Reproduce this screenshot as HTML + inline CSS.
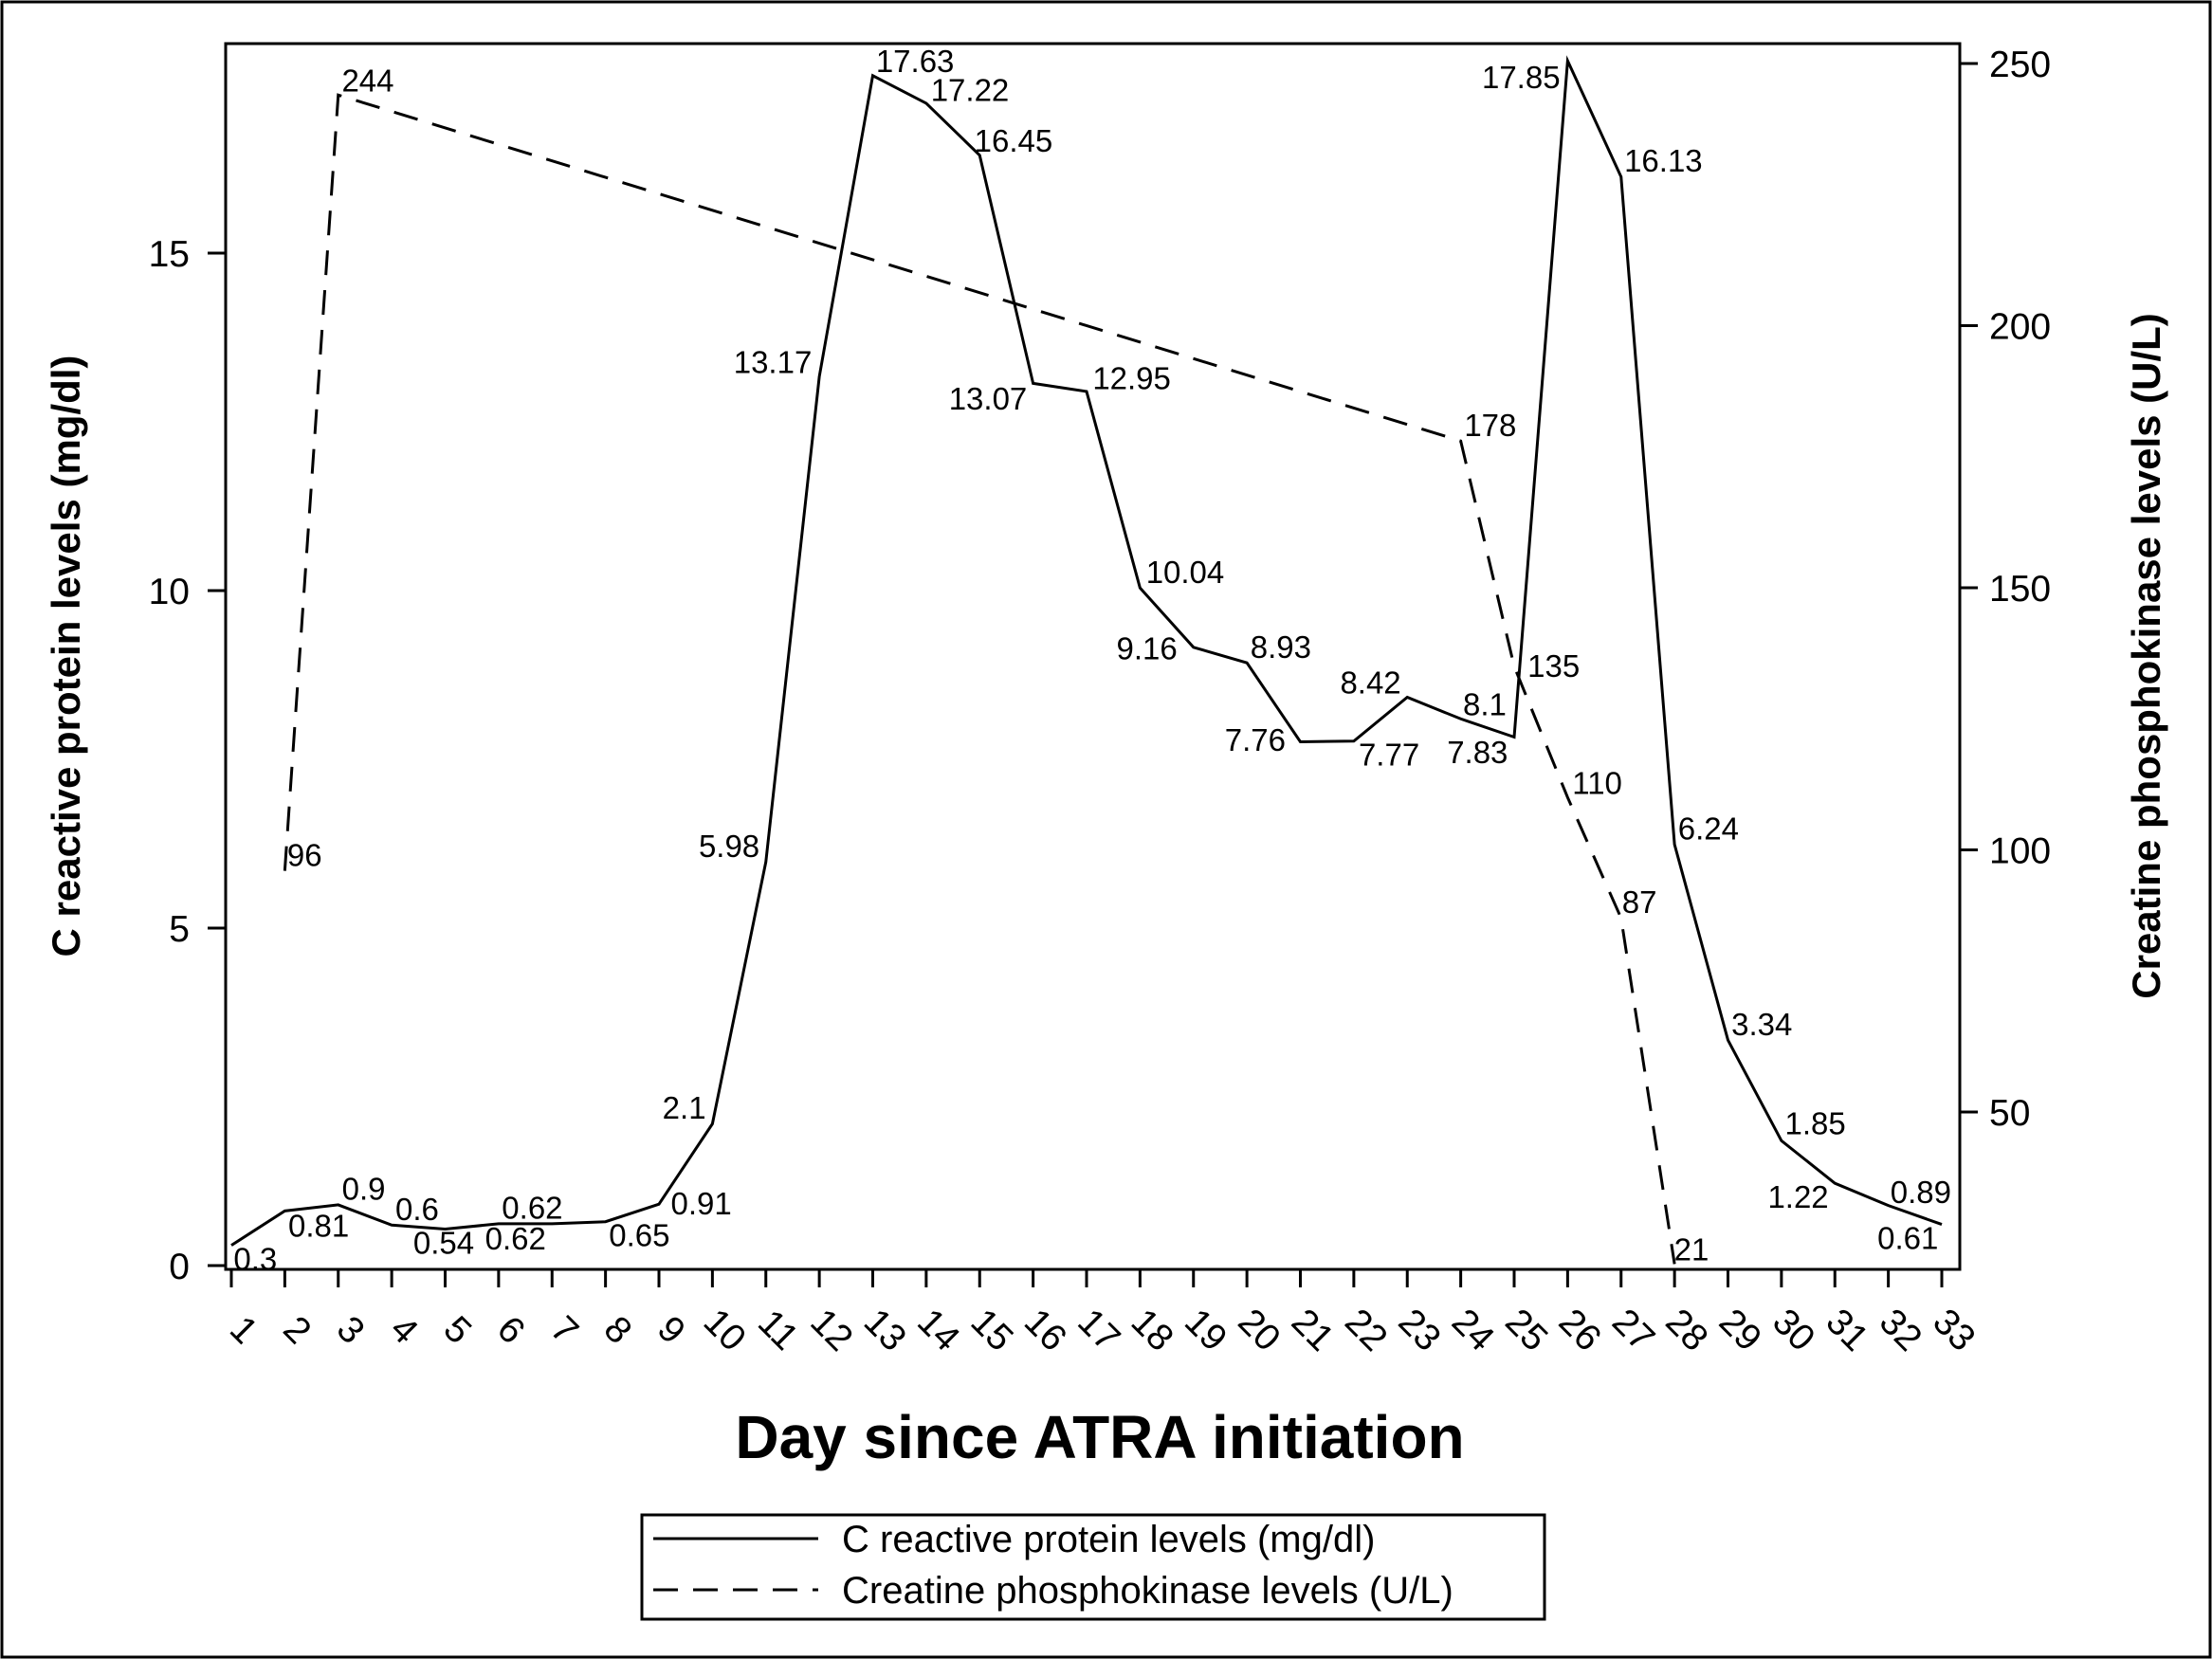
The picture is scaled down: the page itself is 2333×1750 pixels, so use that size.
<!DOCTYPE html>
<html><head><meta charset="utf-8"><style>
html,body{margin:0;padding:0;background:#fff}
svg{display:block;font-family:"Liberation Sans","DejaVu Sans",sans-serif}
</style></head><body>
<svg id="chart" width="2333" height="1750" viewBox="0 0 2333 1750" xmlns="http://www.w3.org/2000/svg">
<rect x="2" y="2" width="2329" height="1746" fill="#fff" stroke="#000" stroke-width="3"/>
<rect x="238" y="46" width="1829" height="1293" fill="none" stroke="#000" stroke-width="3"/>
<g id="axes"></g>
<g id="series"></g>
<text x="1160" y="1538" font-size="64" font-weight="bold" text-anchor="middle">Day since ATRA initiation</text>
<text transform="translate(84,692) rotate(-90)" font-size="42" font-weight="bold" text-anchor="middle">C reactive protein levels (mg/dl)</text>
<text transform="translate(2278,692) rotate(-90)" font-size="42" font-weight="bold" text-anchor="middle">Creatine phosphokinase levels (U/L)</text>
<g>
<rect x="677" y="1598" width="952" height="110" fill="#fff" stroke="#000" stroke-width="3"/>
<line x1="689" y1="1623" x2="863" y2="1623" stroke="#000" stroke-width="3"/>
<text x="888" y="1637" font-size="40">C reactive protein levels (mg/dl)</text>
<line x1="689" y1="1677" x2="863" y2="1677" stroke="#000" stroke-width="3" stroke-dasharray="26 16"/>
<text x="888" y="1691" font-size="40">Creatine phosphokinase levels (U/L)</text>
</g>
</svg>
<script>
const days = [1,2,3,4,5,6,7,8,9,10,11,12,13,14,15,16,17,18,19,20,21,22,23,24,25,26,27,28,29,30,31,32,33];
const crpValues = [0.3,0.81,0.9,0.6,0.54,0.62,0.62,0.65,0.91,2.1,5.98,13.17,17.63,17.22,16.45,13.07,12.95,10.04,9.16,8.93,7.76,7.77,8.42,8.1,7.83,17.85,16.13,6.24,3.34,1.85,1.22,0.89,0.61];
const cpkDays = [2,3,24,25,26,27,28];
const cpkValues = [96,244,178,135,110,87,21];
const leftTicks = [0,5,10,15];
const rightTicks = [50,100,150,200,250];
// label placement offsets (display units)
const crpLabelOff = [[17,10],[24,11],[18,-11],[18,-11],[-1,10],[12,11],[-14,-11],[24,10],[30,0],[-20,-11],[-26,-11],[-33,-10],[30,-10],[31,-9],[24,-10],[-32,11],[32,-9],[32,-11],[-33,1],[24,-11],[-32,-1],[25,10],[-26,-10],[17,-10],[-26,11],[-33,12],[30,-11],[24,-11],[24,-11],[24,-12],[-26,10],[23,-9],[-24,10]];
const cpkLabelOff = [[14,-11],[21,-10],[21,-11],[28,0],[21,-10],[13,-11],[12,-10]];

const NS = "http://www.w3.org/2000/svg";
const S = 1.488;
const xScale = d => 244 + (d - 1) * (2048 - 244) / 32;
const yLeft = v => 1335 - v * 71.2;
const yRight = v => 67 + (250 - v) * 5.53;
function mk(tag, attrs, parent){const e=document.createElementNS(NS,tag);for(const k in attrs)e.setAttribute(k,attrs[k]);parent.appendChild(e);return e;}
const axes = document.getElementById('axes');
const series = document.getElementById('series');

days.forEach(d=>{
  const x = xScale(d);
  const t = mk('line',{x1:x,y1:1339,x2:x,y2:1358,stroke:'#000','stroke-width':3},axes);
  
  
  const l = mk('text',{'font-size':39,'text-anchor':'middle',transform:`translate(${x+4},${1412}) rotate(45)`},axes);
  
  
  l.textContent = d;
});
leftTicks.forEach(v=>{
  const y = yLeft(v);
  const t = mk('line',{x1:219,y1:y,x2:238,y2:y,stroke:'#000','stroke-width':3},axes);
  
  
  const l = mk('text',{x:200,y:y+14,'font-size':39,'text-anchor':'end'},axes);
  
  
  l.textContent = v;
});
rightTicks.forEach(v=>{
  const y = yRight(v);
  const t = mk('line',{x1:2067,y1:y,x2:2086,y2:y,stroke:'#000','stroke-width':3},axes);
  
  
  const l = mk('text',{x:2098,y:y+14,'font-size':39},axes);
  
  
  l.textContent = v;
});

const crpPts = days.map((d,i)=>xScale(d)+','+yLeft(crpValues[i])).join(' ');
const crpLine = mk('polyline',{points:crpPts,fill:'none',stroke:'#000','stroke-width':3},series);


const cpkPts = cpkDays.map((d,i)=>xScale(d)+','+yRight(cpkValues[i])).join(' ');
const cpkLine = mk('polyline',{points:cpkPts,fill:'none',stroke:'#000','stroke-width':3,'stroke-dasharray':'26 16'},series);



days.forEach((d,i)=>{
  const o = crpLabelOff[i];
  const l = mk('text',{x:xScale(d)+o[0]*S,y:yLeft(crpValues[i])+o[1]*S+11,'font-size':33,'text-anchor':'middle'},series);
  
  
  l.textContent = crpValues[i];
});
cpkDays.forEach((d,i)=>{
  const o = cpkLabelOff[i];
  const l = mk('text',{x:xScale(d)+o[0]*S,y:yRight(cpkValues[i])+o[1]*S+11,'font-size':33,'text-anchor':'middle'},series);
  
  
  l.textContent = cpkValues[i];
});
</script>
</body></html>
